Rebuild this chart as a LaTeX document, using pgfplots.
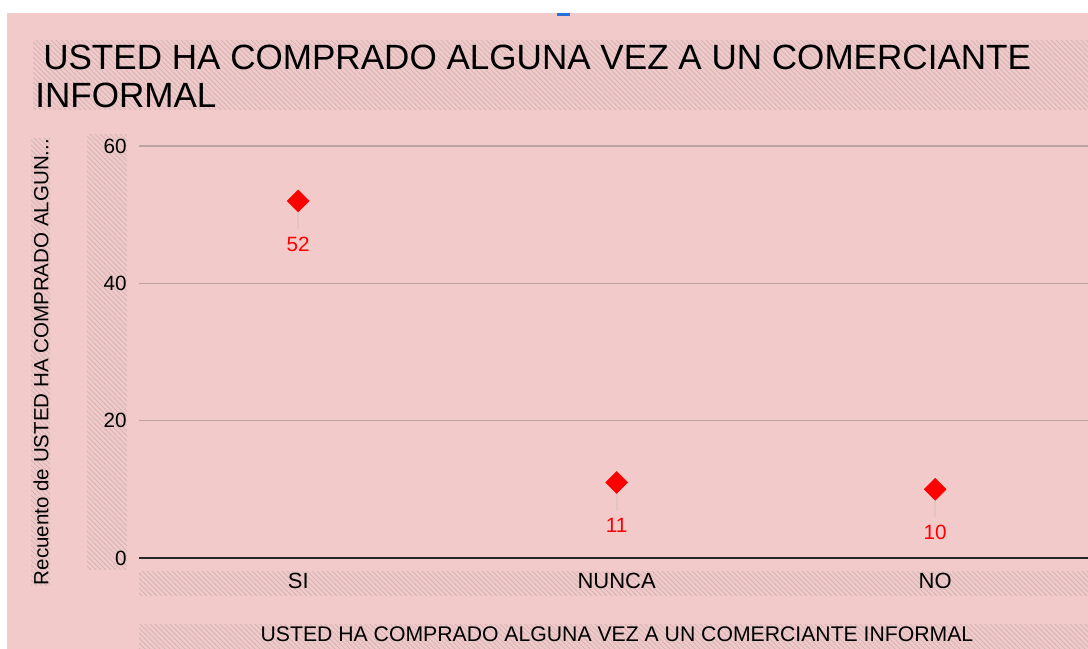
\documentclass[border=0pt]{standalone}
\usepackage{fontspec}
\setmainfont{Liberation Sans}
\usepackage{pgfplots}
\pgfplotsset{compat=1.18}
\usetikzlibrary{patterns}
\definecolor{bgpink}{HTML}{F3CACA}
\definecolor{hatch}{HTML}{D3B6B6}
\definecolor{gridc}{HTML}{BBA3A3}
\definecolor{pinc}{HTML}{E2C4C4}
\definecolor{blueb}{HTML}{2B6FD8}
\pgfdeclarepatternformonly{hatchnw}{\pgfqpoint{-1pt}{-1pt}}{\pgfqpoint{4.75pt}{4.75pt}}{\pgfqpoint{3.75pt}{3.75pt}}{%
  \pgfsetlinewidth{0.7pt}%
  \pgfpathmoveto{\pgfqpoint{-0.5pt}{4.25pt}}%
  \pgfpathlineto{\pgfqpoint{4.25pt}{-0.5pt}}%
  \pgfusepath{stroke}}
\begin{document}
\begin{tikzpicture}[x=0.75pt,y=0.75pt]
\path[use as bounding box, fill=white] (0,0) rectangle (1088,649);
\fill[bgpink] (7,0) rectangle (1088,636);
\fill[blueb] (557,633) rectangle (570,636);
% hatched areas
\fill[pattern=hatchnw, pattern color=hatch] (33,539) rectangle (1088,608);
\fill[pattern=hatchnw, pattern color=hatch] (31,63) rectangle (50,510);
\fill[pattern=hatchnw, pattern color=hatch] (87,79) rectangle (127,514);
\fill[pattern=hatchnw, pattern color=hatch] (139,53) rectangle (1088,77);
\fill[pattern=hatchnw, pattern color=hatch] (139,0) rectangle (1088,24);
% title
\node[anchor=base west, inner sep=0pt, font=\fontsize{26.3}{30}\selectfont] at (43,579) {USTED HA COMPRADO ALGUNA VEZ A UN COMERCIANTE};
\node[anchor=base west, inner sep=0pt, font=\fontsize{26.3}{30}\selectfont] at (35,541) {INFORMAL};
% y label
\node[rotate=90, inner sep=0pt, font=\fontsize{15.4}{18}\selectfont] at (41,287) {Recuento de USTED HA COMPRADO ALGUN...};
% x label
\node[inner sep=0pt, font=\fontsize{15.9}{18}\selectfont] at (617,15) {USTED HA COMPRADO ALGUNA VEZ A UN COMERCIANTE INFORMAL};
\begin{axis}[
  at={(104.25pt,68.25pt)}, anchor=south west,
  scale only axis, width=711.75pt, height=309pt,
  xmin=-0.5, xmax=2.48, ymin=0, ymax=60,
  axis line style={draw=none},
  ytick={0,20,40,60}, xtick={0,1,2}, xticklabels={SI,NUNCA,NO},
  major tick length=0pt,
  ymajorgrids, grid style={gridc, line width=1.1pt},
  extra y ticks={0}, extra y tick labels={},
  extra y tick style={grid style={black!85, line width=1.2pt}},
  clip=false,
  /pgf/number format/assume math mode=true,
  yticklabel style={anchor=east, inner sep=0pt, xshift=-9pt, font=\fontsize{15.5}{18}\selectfont},
  xticklabel style={anchor=center, inner sep=0pt, yshift=-17.25pt, font=\fontsize{16.5}{18}\selectfont},
]
\addplot[only marks, mark=square*, mark size=5.8pt,
  mark options={rotate=45, fill=red, draw=red},
  nodes near coords,
  nodes near coords style={text=red, anchor=center, inner sep=0pt, yshift=-32.25pt, font=\fontsize{15.5}{18}\selectfont},
  error bars/.cd, y dir=minus, y fixed=4.1, error mark=none,
  error bar style={pinc, line width=1.5pt}]
  coordinates {(0,52) (1,11) (2,10)};
\end{axis}
\end{tikzpicture}
\end{document}
